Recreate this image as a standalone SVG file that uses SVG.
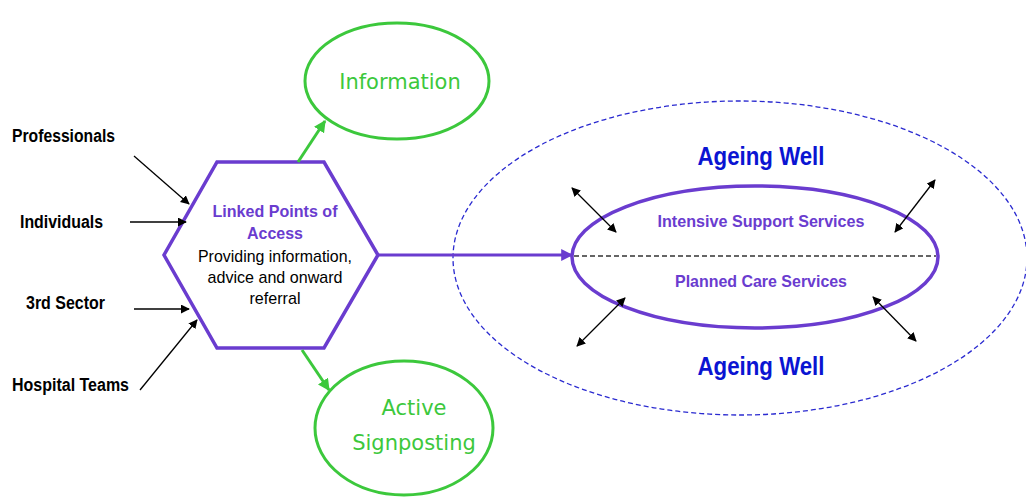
<svg xmlns="http://www.w3.org/2000/svg" width="1026" height="498" viewBox="0 0 1026 498">
  <style>
    .src { font-family: "Liberation Sans", Arial, sans-serif; font-size: 18px; font-weight: bold; fill: #000; }
    .hand { font-family: "Comic Sans MS", "DejaVu Sans", sans-serif; font-size: 21px; fill: #3cc83c; text-anchor: middle; }
    .purple { font-family: "Liberation Sans", Arial, sans-serif; font-size: 17px; font-weight: bold; fill: #6a3ccf; text-anchor: middle; }
    .body { font-family: "Liberation Sans", Arial, sans-serif; font-size: 17px; fill: #000; text-anchor: middle; }
    .well { font-family: "Liberation Sans", Arial, sans-serif; font-size: 26px; font-weight: bold; fill: #0a14d2; text-anchor: middle; }
    .blk { stroke: #000; stroke-width: 1.3; fill: none; }
    .grn { stroke: #3cc83c; stroke-width: 3; fill: none; }
  </style>
  <defs>
    <marker id="ah" viewBox="0 0 10 10" refX="9" refY="5" markerWidth="9" markerHeight="9" markerUnits="userSpaceOnUse" orient="auto-start-reverse">
      <path d="M0,0 L10,5 L0,10 z" fill="#000"/>
    </marker>
    <marker id="ag" viewBox="0 0 10 10" refX="9" refY="5" markerWidth="4" markerHeight="4" orient="auto">
      <path d="M0,0 L10,5 L0,10 z" fill="#3cc83c"/>
    </marker>
    <marker id="ap" viewBox="0 0 10 10" refX="9" refY="5" markerWidth="4" markerHeight="4" orient="auto">
      <path d="M0,0 L10,5 L0,10 z" fill="#6a3ccf"/>
    </marker>
  </defs>

  <!-- outer service area -->
  <g id="ageing-well">
    <ellipse cx="740" cy="258" rx="287" ry="157" fill="none" stroke="#2a2ad0" stroke-width="1.3" stroke-dasharray="5 3"/>
    <text class="well" x="761" y="165" textLength="127" lengthAdjust="spacingAndGlyphs">Ageing Well</text>
    <text class="well" x="761" y="375" textLength="127" lengthAdjust="spacingAndGlyphs">Ageing Well</text>
  </g>

  <!-- source labels -->
  <g id="professionals"><text class="src" x="12" y="142" textLength="103" lengthAdjust="spacingAndGlyphs">Professionals</text></g>
  <g id="individuals"><text class="src" x="20" y="228" textLength="83" lengthAdjust="spacingAndGlyphs">Individuals</text></g>
  <g id="third-sector"><text class="src" x="26" y="309" textLength="79" lengthAdjust="spacingAndGlyphs">3rd Sector</text></g>
  <g id="hospital-teams"><text class="src" x="12" y="391" textLength="117" lengthAdjust="spacingAndGlyphs">Hospital Teams</text></g>

  <!-- central access point -->
  <g id="linked-points">
    <polygon points="217,162 324,162 378,255 324,348 217,348 164,255" fill="#fff" stroke="#6a3ccf" stroke-width="3.5" stroke-linejoin="miter"/>
    <text class="purple" x="275" y="217" textLength="125" lengthAdjust="spacingAndGlyphs">Linked Points of</text>
    <text class="purple" x="275" y="239" textLength="56" lengthAdjust="spacingAndGlyphs">Access</text>
    <text class="body" x="275" y="262" textLength="154" lengthAdjust="spacingAndGlyphs">Providing information,</text>
    <text class="body" x="275" y="283" textLength="135" lengthAdjust="spacingAndGlyphs">advice and onward</text>
    <text class="body" x="275" y="304" textLength="51" lengthAdjust="spacingAndGlyphs">referral</text>
  </g>

  <g id="information">
    <ellipse cx="397" cy="81" rx="92" ry="58" fill="none" stroke="#3cc83c" stroke-width="3"/>
    <text class="hand" x="400" y="89">Information</text>
  </g>

  <g id="active-signposting">
    <ellipse cx="404" cy="428" rx="89" ry="67" fill="none" stroke="#3cc83c" stroke-width="3"/>
    <text class="hand" x="414" y="415">Active</text>
    <text class="hand" x="414" y="450">Signposting</text>
  </g>

  <g id="services">
    <ellipse cx="755" cy="257" rx="183" ry="71" fill="none" stroke="#6a3ccf" stroke-width="3.5"/>
    <line x1="574" y1="256" x2="936" y2="256" stroke="#333" stroke-width="1.3" stroke-dasharray="5 3"/>
    <text class="purple" x="761" y="227" textLength="207" lengthAdjust="spacingAndGlyphs">Intensive Support Services</text>
    <text class="purple" x="761" y="287" textLength="172" lengthAdjust="spacingAndGlyphs">Planned Care Services</text>
  </g>

  <g id="connectors">
    <line class="blk" x1="134" y1="156" x2="189" y2="204" marker-end="url(#ah)"/>
    <line class="blk" x1="130" y1="222" x2="186" y2="222" marker-end="url(#ah)"/>
    <line class="blk" x1="134" y1="309" x2="189" y2="309" marker-end="url(#ah)"/>
    <line class="blk" x1="140" y1="390" x2="197" y2="320" marker-end="url(#ah)"/>

    <line class="grn" x1="298" y1="162" x2="325" y2="121" marker-end="url(#ag)"/>
    <line class="grn" x1="302" y1="350" x2="329" y2="390" marker-end="url(#ag)"/>

    <line x1="378" y1="255" x2="572" y2="255" stroke="#6a3ccf" stroke-width="3" marker-end="url(#ap)"/>

    <line class="blk" x1="572" y1="188" x2="616" y2="232" marker-start="url(#ah)" marker-end="url(#ah)"/>
    <line class="blk" x1="935" y1="180" x2="895" y2="232" marker-start="url(#ah)" marker-end="url(#ah)"/>
    <line class="blk" x1="625" y1="298" x2="577" y2="346" marker-start="url(#ah)" marker-end="url(#ah)"/>
    <line class="blk" x1="873" y1="297" x2="916" y2="341" marker-start="url(#ah)" marker-end="url(#ah)"/>
  </g>
</svg>
